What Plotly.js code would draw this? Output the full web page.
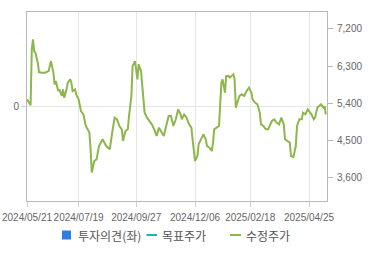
<!DOCTYPE html>
<html>
<head>
<meta charset="utf-8">
<script src="https://cdn.plot.ly/plotly-3.0.1.min.js"></script>
<style>
  html, body { margin: 0; padding: 0; background: #fff; }
  #chart { width: 370px; height: 255px; }
</style>
</head>
<body>
<div id="chart"></div>
<script>
// Trading-day index (0 = 2024/05/21) and adjusted close price (수정주가)
var dayIdx = [0,2,3,4,5,6,7,9,10,12,15,18,20,22,23,24,26,27,29,30,31,33,34,36,37,38,40,41,43,45,47,49,52,53,54,56,58,60,63,66,69,71,73,75,77,79,80,82,84,85,87,88,90,92,93,95,97,98,100,102,104,106,108,110,112,114,116,118,120,122,124,126,128,129,131,133,135,137,138,140,142,143,145,147,149,150,152,154,155,156,158,160,162,163,165,166,168,169,172,173,174,176,177,179,181,183,185,187,188,190,192,194,195,197,199,201,202,204,206,208,210,212,214,215,217,219,220,222,224,225,227,229,230,232,234,237,239,240,242,244,245,247,248,249];
var price = [5497,5376,5352,6706,6948,6665,6626,6385,6157,6143,6143,6181,6423,6143,5860,5939,5698,5739,5577,5739,5538,5739,5901,5980,5901,5698,5739,5618,5497,5214,5134,4851,4691,4287,3724,4004,4045,4367,4529,4367,4287,4691,5054,5013,4851,4771,4488,4730,4771,5093,5577,6302,6423,5980,6343,6181,5577,5175,5054,4972,4892,4771,4609,4812,4691,4609,4851,5093,5093,4851,5013,5255,5134,5013,5134,5054,4892,4812,4529,4004,4125,4408,4529,4650,4529,4367,4328,4246,4449,4771,4812,4851,5901,5980,5659,6060,6060,6022,6102,5980,5296,5456,5577,5618,5577,5698,5780,5659,5497,5417,5376,5175,4892,4851,4771,4771,4851,4972,5013,4933,4892,5054,4892,4529,4488,4449,4125,4101,4367,4851,5013,5013,5175,5134,5255,5134,5013,5054,5296,5335,5376,5296,5335,5134];

// X tick positions (trading-day index) and labels
var xTickIdx = [0, 43, 91, 140, 186, 235];
var xTickLabels = ['2024/05/21', '2024/07/19', '2024/09/27', '2024/12/06', '2025/02/18', '2025/04/25'];
// Right axis (price) ticks
var priceTicks = [3600, 4500, 5400, 6300, 7200];
// Left axis (investment opinion) ticks
var opinionTicks = [0];

// Legend
var legendNames = ['투자의견(좌)', '목표주가', '수정주가'];
var colors = { opinion: '#2f7fe3', target: '#23aebb', price: '#8db64c' };

var traces = [
  { type: 'bar', name: legendNames[0], x: [], y: [], yaxis: 'y', marker: { color: colors.opinion }, showlegend: false },
  { type: 'scatter', mode: 'lines', name: legendNames[1], x: [], y: [], yaxis: 'y2', line: { color: colors.target, width: 2 }, showlegend: false },
  { type: 'scatter', mode: 'lines', name: legendNames[2], x: dayIdx, y: price, yaxis: 'y2', line: { color: colors.price, width: 2 }, showlegend: false, hoverinfo: 'skip' }
];

var L = 27, R = 327, T = 12, B = 201;
function px(x) { return (x - L) / (R - L); }
function py(y) { return (B - y) / (B - T); }

var tickFont = { family: 'Liberation Sans, Arial, sans-serif', size: 10, color: '#666' };
var legFont = { family: 'Noto Sans CJK KR, sans-serif', size: 12, color: '#555' };

var layout = {
  width: 370, height: 255,
  margin: { l: L, r: 370 - R, t: T, b: 255 - B, pad: 0 },
  paper_bgcolor: '#fff', plot_bgcolor: '#fff',
  showlegend: false,
  xaxis: {
    range: [0, 250], tickvals: xTickIdx, ticktext: xTickLabels, tickangle: 0,
    showgrid: true, gridcolor: '#e6e6e6', gridwidth: 1,
    ticks: 'outside', ticklen: 5, tickcolor: '#d0d0d0', ticklabelstandoff: 2,
    showline: true, linecolor: '#b8b8b8', mirror: true,
    zeroline: false, tickfont: tickFont, fixedrange: true
  },
  yaxis: {
    range: [-1, 1], tickvals: opinionTicks, ticktext: ['0'],
    showgrid: true, gridcolor: '#e6e6e6',
    ticks: 'outside', ticklen: 5, tickcolor: '#d0d0d0',
    showline: true, linecolor: '#b8b8b8', zeroline: false,
    tickfont: tickFont, fixedrange: true
  },
  yaxis2: {
    overlaying: 'y', side: 'right',
    range: [3036, 7611], tickvals: priceTicks, tickformat: ',',
    showgrid: false, ticks: 'outside', ticklen: 5, tickcolor: '#b8b8b8', ticklabelstandoff: 2,
    showline: true, linecolor: '#b8b8b8', zeroline: false,
    tickfont: tickFont, fixedrange: true
  },
  shapes: [
    { type: 'rect', xref: 'paper', yref: 'paper', x0: px(62), x1: px(71), y0: py(239.5), y1: py(230.5), fillcolor: colors.opinion, line: { width: 0 } },
    { type: 'line', xref: 'paper', yref: 'paper', x0: px(146.5), x1: px(157), y0: py(235), y1: py(235), line: { color: colors.target, width: 2 } },
    { type: 'line', xref: 'paper', yref: 'paper', x0: px(230), x1: px(241), y0: py(235), y1: py(235), line: { color: colors.price, width: 2 } }
  ],
  annotations: [
    { xref: 'paper', yref: 'paper', x: px(76), y: py(235), xanchor: 'left', yanchor: 'middle', text: legendNames[0], showarrow: false, font: legFont },
    { xref: 'paper', yref: 'paper', x: px(160), y: py(235), xanchor: 'left', yanchor: 'middle', text: legendNames[1], showarrow: false, font: legFont },
    { xref: 'paper', yref: 'paper', x: px(243.5), y: py(235), xanchor: 'left', yanchor: 'middle', text: legendNames[2], showarrow: false, font: legFont }
  ]
};

Plotly.newPlot('chart', traces, layout, { displayModeBar: false, staticPlot: true });
</script>
</body>
</html>
